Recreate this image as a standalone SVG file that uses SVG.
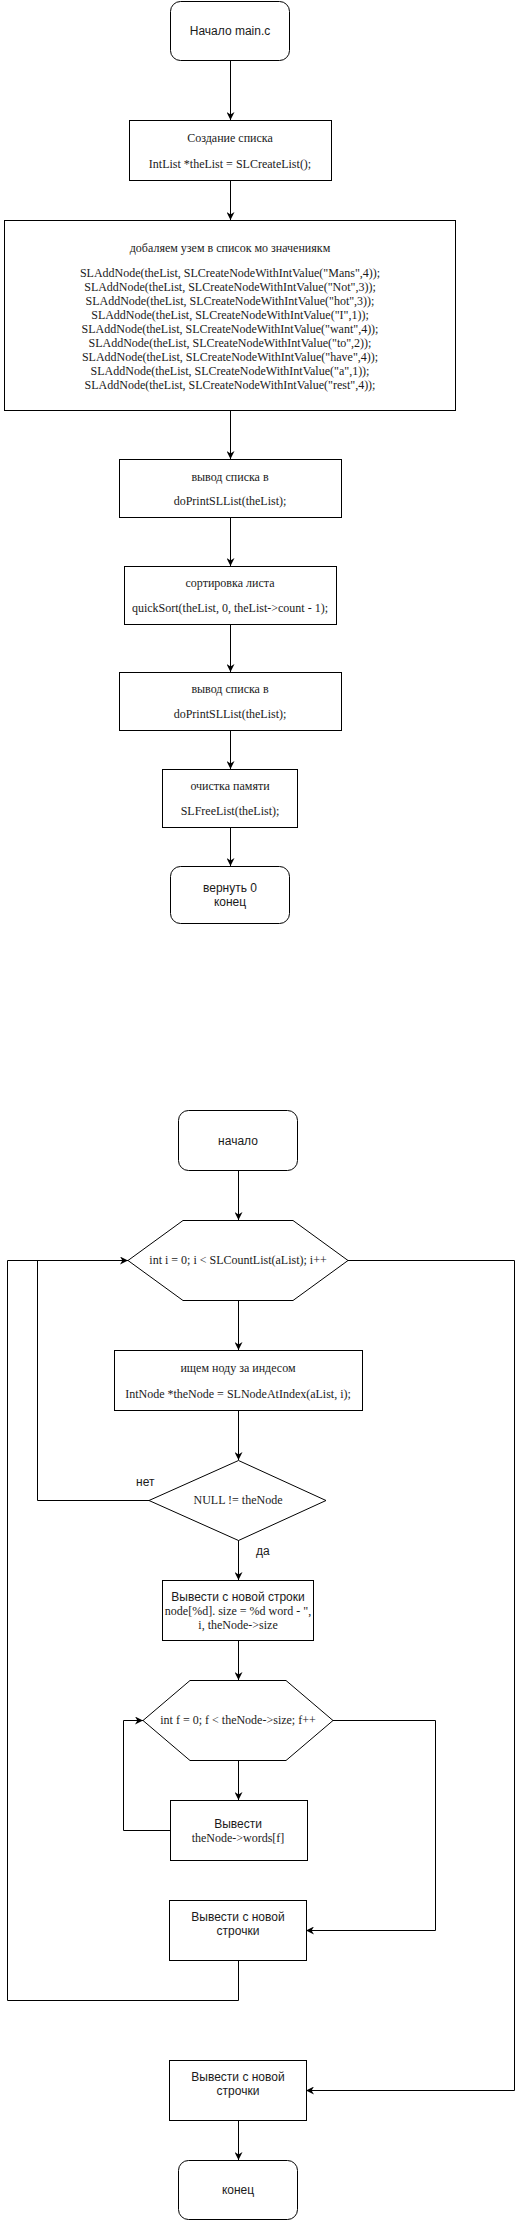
<svg xmlns="http://www.w3.org/2000/svg" width="526" height="2221" viewBox="0 0 526 2221">
<defs>
<marker id="arr" viewBox="0 0 10 10" refX="10" refY="5" markerWidth="8" markerHeight="8" markerUnits="userSpaceOnUse" orient="auto">
<path d="M0,0 L10,5 L0,10 L3,5 z" fill="#000"/>
</marker>
<style>
.n{fill:#fff;stroke:#000;stroke-width:1}
.c{fill:none;stroke:#000;stroke-width:1;marker-end:url(#arr)}
.cl{fill:none;stroke:#000;stroke-width:1}
.s{font-family:"Liberation Sans",Arial,sans-serif;font-size:12px;fill:#1a1a1a;text-anchor:middle}
.t{font-family:"Liberation Serif","Times New Roman",serif;font-size:12px;fill:#1a1a1a;text-anchor:middle}
.l{font-family:"Liberation Sans",Arial,sans-serif;font-size:12px;fill:#1a1a1a}
</style>
</defs>
<rect width="526" height="2221" fill="#fff"/>
<g id="connectors">
<path class="c" d="M230.5,60 V120"/>
<path class="c" d="M230.5,180 V220"/>
<path class="c" d="M230.5,410 V459"/>
<path class="c" d="M230.5,517 V566"/>
<path class="c" d="M230.5,624 V672"/>
<path class="c" d="M230.5,730 V769"/>
<path class="c" d="M230.5,827 V866"/>
<path class="c" d="M238.5,1170 V1220"/>
<path class="c" d="M238.5,1300 V1350"/>
<path class="c" d="M238.5,1410 V1460"/>
<path class="c" d="M238.5,1540 V1580"/>
<path class="c" d="M238.5,1640 V1680"/>
<path class="c" d="M238.5,1760 V1800"/>
<path class="c" d="M170,1830.5 H123.5 V1720.5 H143"/>
<path class="c" d="M333,1720.5 H435.5 V1930.5 H306"/>
<path class="c" d="M238.5,1960 V2000.5 H7.5 V1260.5 H128"/>
<path class="cl" d="M149,1500.5 H37.5 V1260.5"/>
<path class="c" d="M348,1260.5 H514.5 V2090.5 H306"/>
<path class="c" d="M238.5,2120 V2160"/>
<text class="l" x="136" y="1486">нет</text>
<text class="l" x="256" y="1555">да</text>
</g>
<g id="start1">
<rect class="n" x="170.5" y="1.5" width="119" height="59" rx="10"/>
<text class="s" x="230" y="35">Начало main.c</text>
</g>
<g id="create">
<rect class="n" x="129.5" y="120.5" width="202" height="60"/>
<text class="t" x="230" y="142">Создание списка</text>
<text class="t" x="230" y="168">IntList *theList = SLCreateList();</text>
</g>
<g id="add">
<rect class="n" x="4.5" y="220.5" width="451" height="190"/>
<text class="t" x="230" y="252">добаляем узем в список мо значениякм</text>
<text class="t" x="230" y="277">SLAddNode(theList, SLCreateNodeWithIntValue("Mans",4));</text>
<text class="t" x="230" y="291">SLAddNode(theList, SLCreateNodeWithIntValue("Not",3));</text>
<text class="t" x="230" y="305">SLAddNode(theList, SLCreateNodeWithIntValue("hot",3));</text>
<text class="t" x="230" y="319">SLAddNode(theList, SLCreateNodeWithIntValue("I",1));</text>
<text class="t" x="230" y="333">SLAddNode(theList, SLCreateNodeWithIntValue("want",4));</text>
<text class="t" x="230" y="347">SLAddNode(theList, SLCreateNodeWithIntValue("to",2));</text>
<text class="t" x="230" y="361">SLAddNode(theList, SLCreateNodeWithIntValue("have",4));</text>
<text class="t" x="230" y="375">SLAddNode(theList, SLCreateNodeWithIntValue("a",1));</text>
<text class="t" x="230" y="389">SLAddNode(theList, SLCreateNodeWithIntValue("rest",4));</text>
</g>
<g id="print1">
<rect class="n" x="119.5" y="459.5" width="222" height="58"/>
<text class="t" x="230" y="481">вывод списка в</text>
<text class="t" x="230" y="505">doPrintSLList(theList);</text>
</g>
<g id="sort">
<rect class="n" x="124.5" y="566.5" width="212" height="58"/>
<text class="t" x="230" y="587">сортировка листа</text>
<text class="t" x="230" y="612">quickSort(theList, 0, theList-&gt;count - 1);</text>
</g>
<g id="print2">
<rect class="n" x="119.5" y="672.5" width="222" height="58"/>
<text class="t" x="230" y="693">вывод списка в</text>
<text class="t" x="230" y="718">doPrintSLList(theList);</text>
</g>
<g id="free">
<rect class="n" x="162.5" y="769.5" width="135" height="58"/>
<text class="t" x="230" y="790">очистка памяти</text>
<text class="t" x="230" y="815">SLFreeList(theList);</text>
</g>
<g id="end1">
<rect class="n" x="170.5" y="866.5" width="119" height="57" rx="10"/>
<text class="s" x="230" y="892">вернуть 0</text>
<text class="s" x="230" y="906">конец</text>
</g>
<g id="start2">
<rect class="n" x="178.5" y="1110.5" width="119" height="60" rx="10"/>
<text class="s" x="238" y="1145">начало</text>
</g>
<g id="loopI">
<polygon class="n" points="128,1260.5 183,1220.5 293,1220.5 348,1260.5 293,1300.5 183,1300.5"/>
<text class="t" x="238" y="1264">int i = 0; i &lt; SLCountList(aList); i++</text>
</g>
<g id="findNode">
<rect class="n" x="114.5" y="1350.5" width="248" height="60"/>
<text class="t" x="238" y="1372">ищем ноду за индесом</text>
<text class="t" x="238" y="1398">IntNode *theNode = SLNodeAtIndex(aList, i);</text>
</g>
<g id="check">
<polygon class="n" points="238.5,1460.5 326,1500.5 238.5,1540.5 149,1500.5"/>
<text class="t" x="238" y="1504">NULL != theNode</text>
</g>
<g id="printNode">
<rect class="n" x="162.5" y="1580.5" width="151" height="60"/>
<text class="s" x="238" y="1601">Вывести с новой строки</text>
<text class="t" x="238" y="1615">node[%d]. size = %d word - ",</text>
<text class="t" x="238" y="1629">i, theNode-&gt;size</text>
</g>
<g id="loopF">
<polygon class="n" points="143,1720.5 190,1680.5 286,1680.5 333,1720.5 286,1760.5 190,1760.5"/>
<text class="t" x="238" y="1724">int f = 0; f &lt; theNode-&gt;size; f++</text>
</g>
<g id="printWord">
<rect class="n" x="170.5" y="1800.5" width="137" height="60"/>
<text class="s" x="238" y="1828">Вывести</text>
<text class="t" x="238" y="1842">theNode-&gt;words[f]</text>
</g>
<g id="newline1">
<rect class="n" x="169.5" y="1900.5" width="137" height="60"/>
<text class="s" x="238" y="1921">Вывести с новой</text>
<text class="s" x="238" y="1935">строчки</text>
</g>
<g id="newline2">
<rect class="n" x="169.5" y="2060.5" width="137" height="60"/>
<text class="s" x="238" y="2081">Вывести с новой</text>
<text class="s" x="238" y="2095">строчки</text>
</g>
<g id="end2">
<rect class="n" x="178.5" y="2160.5" width="119" height="59" rx="10"/>
<text class="s" x="238" y="2194">конец</text>
</g>
</svg>
